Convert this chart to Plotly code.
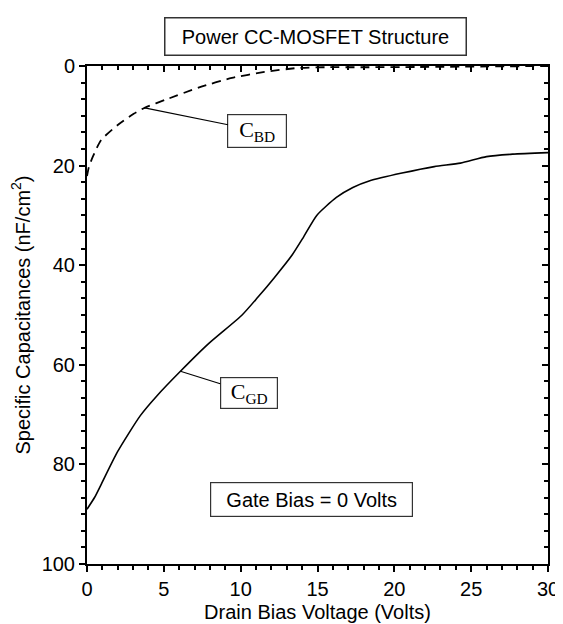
import numpy as np
import plotly.graph_objects as go

# Drain bias voltage (V) and capacitances (nF/cm^2)
v_gd = [0, 0.5, 0.91, 1.98, 3.47, 4.53, 6.08, 7.93, 10.06, 11.1, 12.19, 13.36,
        14.1, 14.95, 16.23, 17.3, 18.36, 20.5, 22.6, 24.3, 26.0, 27.7, 30]
c_gd = [89.0, 86.6, 84.1, 77.5, 70.2, 66.3, 61.3, 55.7, 50.1, 46.5, 42.5, 37.9,
        34.3, 30.0, 26.4, 24.4, 23.1, 21.5, 20.2, 19.5, 18.2, 17.7, 17.4]

v_bd = [0, 0.12, 0.38, 0.91, 1.98, 3.04, 3.75, 5.17, 7.3, 9.43, 11.55, 13.7,
        15.5, 18.0, 21.6, 30]
c_bd = [22.1, 20.3, 18.2, 14.9, 11.9, 9.6, 8.4, 6.7, 4.3, 2.4, 1.2, 0.4,
        0.25, 0.25, 0.2, 0.0]

x_ticks = [0, 5, 10, 15, 20, 25, 30]
y_ticks = [0, 20, 40, 60, 80, 100]

title_text = "Power CC-MOSFET Structure"
x_title = "Drain Bias Voltage (Volts)"
y_title = "Specific Capacitances (nF/cm<sup>2</sup>)"
gate_text = "Gate Bias = 0 Volts"
label_bd = "C<sub>BD</sub>"
label_gd = "C<sub>GD</sub>"

# label anchor voltages on each curve and label box positions (data coords)
bd_point_v = 3.75
gd_point_v = 6.08
bd_box = (11.09, 13.0)
gd_box = (10.52, 65.6)
gate_pos = (14.58, 87.0)

SANS = "Liberation Sans, Arial, Helvetica, sans-serif"
SERIF = "Liberation Serif, Times New Roman, serif"

fig = go.Figure()
fig.add_trace(go.Scatter(x=v_bd, y=c_bd, mode="lines",
                         line=dict(color="black", width=1.8, dash="9px,6px",
                                   shape="spline", smoothing=0.6),
                         showlegend=False, hoverinfo="skip"))
fig.add_trace(go.Scatter(x=v_gd, y=c_gd, mode="lines",
                         line=dict(color="black", width=1.6,
                                   shape="spline", smoothing=0.6),
                         showlegend=False, hoverinfo="skip"))

axis_common = dict(showgrid=False, zeroline=False, showline=True,
                   linecolor="black", linewidth=2, tickcolor="black",
                   tickwidth=1.5)

fig.update_layout(
    width=563, height=624,
    margin=dict(l=79, r=14, t=58, b=60),
    paper_bgcolor="white", plot_bgcolor="white",
    font=dict(family=SANS, size=20, color="black"),
    xaxis=dict(range=[0, 30], tickvals=x_ticks, ticks="outside", ticklen=6,
               minor=dict(dtick=1, tick0=0, ticks="outside", ticklen=4,
                          tickcolor="black", tickwidth=1.5),
               title=dict(text=x_title, standoff=6,
                          font=dict(size=20)),
               tickfont=dict(size=20), **axis_common),
    yaxis=dict(range=[100, 0], tickvals=y_ticks, ticks="outside", ticklen=6,
               minor=dict(dtick=10 / 3, tick0=0, ticks="outside", ticklen=4,
                          tickcolor="black", tickwidth=1.5),
               title=dict(text=y_title, standoff=6, font=dict(size=20)),
               tickfont=dict(size=20), **axis_common),
    xaxis2=dict(range=[0, 30], overlaying="x", side="top", anchor="y",
                tickvals=x_ticks, ticks="inside", ticklen=6,
                showticklabels=False,
                minor=dict(dtick=1, tick0=0, ticks="inside", ticklen=4,
                           tickcolor="black", tickwidth=1.5),
                **axis_common),
    yaxis2=dict(range=[100, 0], overlaying="y", side="right", anchor="x",
                tickvals=y_ticks, ticks="inside", ticklen=6,
                showticklabels=False,
                minor=dict(dtick=10 / 3, tick0=0, ticks="inside", ticklen=4,
                           tickcolor="black", tickwidth=1.5),
                **axis_common),
)

# invisible copy on the mirror axes so they render
fig.add_trace(go.Scatter(x=v_gd, y=c_gd, xaxis="x2", yaxis="y2", mode="lines",
                         line=dict(width=0), opacity=0, showlegend=False,
                         hoverinfo="skip"))

# title box
fig.add_annotation(text=title_text, xref="paper", yref="paper",
                   x=0.496, y=1.060, xanchor="center", yanchor="middle",
                   showarrow=False, font=dict(family=SANS, size=20),
                   width=290, height=26, borderpad=5,
                   bordercolor="#333333", borderwidth=1.5, bgcolor="white")

# gate bias box
fig.add_annotation(text=gate_text, x=gate_pos[0], y=gate_pos[1],
                   xref="x", yref="y", showarrow=False,
                   font=dict(family=SANS, size=20),
                   width=191, height=23, borderpad=5,
                   bordercolor="#333333", borderwidth=1.2, bgcolor="white")

# curve labels with leader lines
bd_point_c = float(np.interp(bd_point_v, v_bd, c_bd))
gd_point_c = float(np.interp(gd_point_v, v_gd, c_gd))
for txt, (px, py), (bx, by), w, h in [
        (label_bd, (bd_point_v, bd_point_c), bd_box, 50, 24),
        (label_gd, (gd_point_v, gd_point_c), gd_box, 48, 22)]:
    fig.add_annotation(text=txt, x=px, y=py, xref="x", yref="y",
                       ax=bx, ay=by, axref="x", ayref="y",
                       showarrow=True, arrowhead=0, arrowwidth=1.2,
                       arrowcolor="black", standoff=0, startstandoff=0,
                       font=dict(family=SERIF, size=22, color="black"),
                       width=w, height=h, borderpad=4,
                       bordercolor="#333333", borderwidth=1.2,
                       bgcolor="white")

fig.write_html("out.html")
